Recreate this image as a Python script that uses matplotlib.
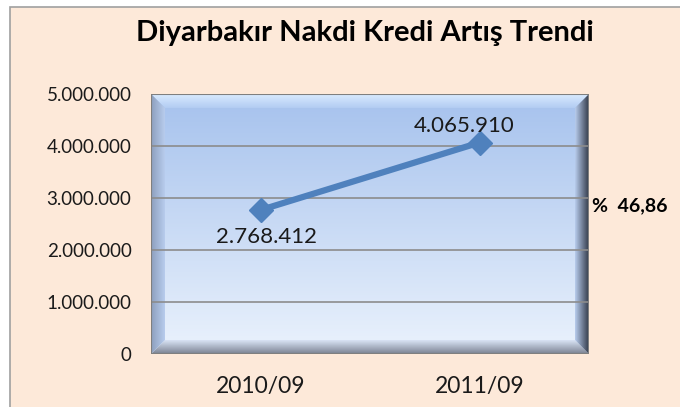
import numpy as np
import matplotlib.pyplot as plt
from matplotlib.patches import Polygon, Rectangle

# chart data
periods = ["2010/09", "2011/09"]
kredi = [2768412, 4065910]
artis = "%  46,86"
title = "Diyarbakır Nakdi Kredi Artış Trendi"

plt.rcParams['font.family'] = ['Lato', 'DejaVu Sans']

bg = "#FDE9D9"
line_c = "#4F81BD"

fig = plt.figure(figsize=(6.8, 4.07), dpi=100)
fig.patch.set_facecolor("white")

# chart area (peach) with gray frame, cut off at right/bottom
frame = Rectangle((10/680, -0.05), 1.0, 1 - 7/407 + 0.05,
                  transform=fig.transFigure, facecolor=bg,
                  edgecolor="#A0A0A0", linewidth=1.2, zorder=-10)
fig.add_artist(frame)

ax = fig.add_axes([151/680, 1 - 354/407, 438/680, 260/407])
ax.set_facecolor("none")
ax.set_zorder(1)

x = np.arange(len(periods))
ax.set_xlim(-0.5, 1.5)
ax.set_ylim(0, 5000000)

# gradient background of plot area
g = np.linspace(0, 1, 256)[:, None, None]
top = np.array([0.65, 0.76, 0.93])
bot = np.array([0.92, 0.95, 0.99])
ax.imshow(top * (1 - g) + bot * g, extent=[0, 1, 0, 1], transform=ax.transAxes,
          aspect="auto", zorder=0)

# bevel edges, each a small gradient clipped to a trapezoid
bw_x = 14/438
bw_y = 14/260

def bevel(pts, c_in, c_out, direction):
    t = np.linspace(0, 1, 64)
    c_in = np.array(c_in)
    c_out = np.array(c_out)
    if direction == "up":      # outer edge at top
        arr = (c_out * (1 - t[:, None]) + c_in * t[:, None])[:, None, :]
        ext = [0, 1, 1 - bw_y, 1]
    elif direction == "down":  # outer edge at bottom
        arr = (c_in * (1 - t[:, None]) + c_out * t[:, None])[:, None, :]
        ext = [0, 1, 0, bw_y]
    elif direction == "left":
        arr = (c_out * (1 - t[:, None]) + c_in * t[:, None])[None, :, :]
        ext = [0, bw_x, 0, 1]
    else:
        arr = (c_in * (1 - t[:, None]) + c_out * t[:, None])[None, :, :]
        ext = [1 - bw_x, 1, 0, 1]
    im = ax.imshow(arr, extent=ext, transform=ax.transAxes, aspect="auto",
                   zorder=1, interpolation="bilinear")
    poly = Polygon(pts, closed=True, transform=ax.transAxes,
                   facecolor="none", edgecolor="none")
    ax.add_patch(poly)
    im.set_clip_path(poly)

bevel([(0, 1), (1, 1), (1 - bw_x, 1 - bw_y), (bw_x, 1 - bw_y)],
      (0.70, 0.80, 0.95), (0.85, 0.92, 1.0), "up")
bevel([(0, 0), (1, 0), (1 - bw_x, bw_y), (bw_x, bw_y)],
      (0.85, 0.89, 0.96), (0.48, 0.51, 0.57), "down")
bevel([(0, 0), (0, 1), (bw_x, 1 - bw_y), (bw_x, bw_y)],
      (0.72, 0.80, 0.93), (0.55, 0.62, 0.74), "left")
bevel([(1, 0), (1, 1), (1 - bw_x, 1 - bw_y), (1 - bw_x, bw_y)],
      (0.72, 0.80, 0.93), (0.20, 0.23, 0.29), "right")
ax.add_patch(Rectangle((0, 0), 1, 1, transform=ax.transAxes, fill=False,
                       edgecolor="#7F7F7F", linewidth=1.5, zorder=3))

ax.set_yticks(np.arange(0, 5000001, 1000000))
for v in range(1000000, 5000000, 1000000):
    ax.axhline(v, color="#8C8C8C", linewidth=1.2, zorder=2)

ax.plot(x, kredi, color=line_c, linewidth=4.5, marker="D", markersize=12,
        zorder=5, solid_capstyle="round")

ax.annotate(f"{kredi[0]:,}".replace(",", "."), (x[0], kredi[0]),
            xytext=(4, -12), textcoords="offset points", ha="center", va="top",
            fontsize=16, color="#1a1a1a", zorder=6)
ax.annotate(f"{kredi[1]:,}".replace(",", "."), (x[1], kredi[1]),
            xytext=(-11, 5), textcoords="offset points", ha="center", va="bottom",
            fontsize=16, color="#1a1a1a", zorder=6)

def fmt(v, p):
    return "0" if v == 0 else f"{int(v):,}".replace(",", ".")

ax.yaxis.set_major_formatter(plt.FuncFormatter(fmt))
ax.set_xticks(x)
ax.set_xticklabels(periods)
ax.tick_params(axis="y", length=0, pad=14, labelsize=13.5, labelcolor="#1a1a1a")
ax.tick_params(axis="x", length=0, pad=16, labelsize=16.5, labelcolor="#1a1a1a")
for s in ax.spines.values():
    s.set_visible(False)

fig.text(365/680, 1 - 33/407, title, ha="center", va="center",
         fontsize=21, fontweight="bold", color="black")
fig.text(592/680, 1 - 206/407, artis, ha="left", va="center",
         fontsize=14, fontweight="bold", color="black")

fig.savefig("out.png", dpi=100, facecolor=fig.get_facecolor())
